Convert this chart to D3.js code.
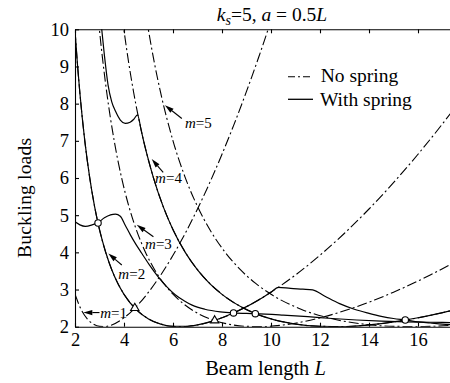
<!DOCTYPE html>
<html>
<head>
<meta charset="utf-8">
<script src="https://cdn.jsdelivr.net/npm/d3@7"></script>
<style>
  body { margin: 0; background: #fff; }
  svg text { font-family: "Liberation Serif", "Tinos", "Times New Roman", "DejaVu Serif", serif; fill: #000; }
</style>
</head>
<body>
<div id="chart"></div>
<script>
// no spring curves, one pair of arrays per mode m
const ns1L = [2.0, 2.25, 2.5, 2.75, 3.0, 3.25, 3.5, 4.0, 4.5, 5.0, 5.5, 6.0, 6.5, 7.0, 7.5, 8.0, 8.5, 9.0, 9.5, 10.0];
const ns1P = [2.873, 2.463, 2.212, 2.071, 2.009, 2.005, 2.047, 2.238, 2.539, 2.928, 3.391, 3.922, 4.514, 5.166, 5.875, 6.639, 7.457, 8.329, 9.254, 10.231];

const ns2L = [2.0, 2.1, 2.2, 2.4, 2.6, 2.8, 3.0, 3.25, 3.5, 3.75, 4.0, 4.5, 5.0, 5.5, 6.0, 6.5, 7.0, 7.5, 8.0, 8.5, 9.0, 9.5, 10.0, 11.0, 12.0, 13.0, 14.0, 15.0, 16.0, 17.0, 17.5];
const ns2P = [9.971, 9.064, 8.280, 7.000, 6.011, 5.234, 4.614, 4.005, 3.533, 3.164, 2.873, 2.463, 2.212, 2.071, 2.009, 2.005, 2.047, 2.127, 2.238, 2.377, 2.539, 2.724, 2.928, 3.391, 3.922, 4.514, 5.166, 5.875, 6.639, 7.457, 7.886];

const ns3L = [2.95, 3.0, 3.15, 3.3, 3.6, 3.9, 4.2, 4.5, 4.875, 5.25, 5.625, 6.0, 6.75, 7.5, 8.25, 9.0, 9.75, 10.5, 11.25, 12.0, 12.75, 13.5, 14.25, 15.0, 16.5, 17.5];
const ns3P = [10.305, 9.971, 9.064, 8.280, 7.000, 6.011, 5.234, 4.614, 4.005, 3.533, 3.164, 2.873, 2.463, 2.212, 2.071, 2.009, 2.005, 2.047, 2.127, 2.238, 2.377, 2.539, 2.724, 2.928, 3.391, 3.738];

const ns4L = [3.93, 4.0, 4.2, 4.4, 4.8, 5.2, 5.6, 6.0, 6.5, 7.0, 7.5, 8.0, 9.0, 10.0, 11.0, 12.0, 13.0, 14.0, 15.0, 16.0, 17.0, 17.5];
const ns4P = [10.32, 9.971, 9.064, 8.280, 7.000, 6.011, 5.234, 4.614, 4.005, 3.533, 3.164, 2.873, 2.463, 2.212, 2.071, 2.009, 2.005, 2.047, 2.127, 2.238, 2.377, 2.455];

const ns5L = [4.91, 5.0, 5.25, 5.5, 6.0, 6.5, 7.0, 7.5, 8.125, 8.75, 9.375, 10.0, 11.25, 12.5, 13.75, 15.0, 16.25, 17.5];
const ns5P = [10.33, 9.971, 9.064, 8.280, 7.000, 6.011, 5.234, 4.614, 4.005, 3.533, 3.164, 2.873, 2.463, 2.212, 2.071, 2.009, 2.005, 2.047];

// with spring curves
const ws1L = [2.0, 2.1, 2.2, 2.4, 2.6, 2.8, 3.0, 3.25, 3.5, 3.75, 4.0, 4.5, 5.0, 5.5, 6.0, 6.5, 7.0, 7.5, 8.0, 8.5, 9.0, 9.5, 10.0, 10.3, 10.8, 11.3, 11.7, 12.2, 12.8, 13.4, 14.0, 14.5, 15.0, 15.5, 16.0, 16.5, 17.0, 17.5];
const ws1P = [9.97, 9.06, 8.28, 7.00, 6.01, 5.23, 4.61, 4.01, 3.53, 3.16, 2.87, 2.46, 2.21, 2.07, 2.01, 2.01, 2.05, 2.13, 2.24, 2.38, 2.54, 2.72, 2.93, 3.06, 3.03, 3.01, 2.99, 2.82, 2.62, 2.47, 2.36, 2.28, 2.22, 2.18, 2.13, 2.10, 2.07, 2.05];

const ws2L = [2.0, 2.2, 2.42, 2.7, 2.94, 3.2, 3.45, 3.65, 3.85, 4.05, 4.26, 4.5, 4.73, 5.05, 5.41, 5.75, 6.09, 6.45, 6.78, 7.3, 7.93, 8.47, 9.36, 10.5, 11.5, 12.5, 13.5, 14.5, 15.5, 16.5, 17.5];
const ws2P = [4.82, 4.74, 4.70, 4.74, 4.80, 4.93, 5.01, 5.03, 4.97, 4.73, 4.47, 4.20, 3.97, 3.65, 3.33, 3.07, 2.86, 2.70, 2.58, 2.47, 2.40, 2.37, 2.35, 2.31, 2.27, 2.22, 2.18, 2.15, 2.13, 2.12, 2.11];

const ws3L = [3.06, 3.2, 3.35, 3.5, 3.65, 3.85, 4.05, 4.25, 4.4, 4.55, 4.7, 4.8, 5.0, 5.2, 5.6, 6.0, 6.5, 7.0, 7.5, 8.0, 9.0, 10.0, 11.0, 12.0, 13.0, 14.0, 15.0, 16.0, 17.0, 17.5];
const ws3P = [10.2, 9.3, 8.5, 8.05, 7.8, 7.56, 7.47, 7.5, 7.58, 7.7, 7.29, 7.0, 6.48, 6.01, 5.23, 4.61, 4.0, 3.53, 3.16, 2.87, 2.46, 2.21, 2.07, 2.01, 2.0, 2.05, 2.13, 2.24, 2.38, 2.46];

// markers
const circL = [2.94, 8.47, 9.36, 15.48];
const circP = [4.79, 2.37, 2.35, 2.18];
const triL = [4.44, 7.70];
const triP = [2.5, 2.167];

// tick labels
const xTicks = [2, 4, 6, 8, 10, 12, 14, 16];
const yTicks = [2, 3, 4, 5, 6, 7, 8, 9, 10];

// mode labels: arrow tip, arrow tail, label left/centre
const modeNames = ["1", "2", "3", "4", "5"];
const tipL = [2.34, 3.36, 4.52, 5.13, 5.67];
const tipP = [2.38, 3.97, 4.74, 6.51, 7.96];
const tailL = [3.0, 3.91, 5.20, 5.60, 6.36];
const tailP = [2.38, 3.66, 4.42, 6.15, 7.60];
const labL = [3.03, 3.77, 4.86, 5.27, 6.49];
const labP = [2.38, 3.42, 4.22, 6.0, 7.48];

const svgWidth = 450, svgHeight = 383;
const dashDot = "10,3,2,3";
const fontFam = '"Liberation Serif", "Tinos", "Times New Roman", "DejaVu Serif", serif';

const svg = d3.select("#chart").append("svg")
    .attr("width", svgWidth)
    .attr("height", svgHeight);

svg.append("rect").attr("width", svgWidth).attr("height", svgHeight).attr("fill", "#fff");

const x = d3.scaleLinear().domain([2, 17.5]).range([75, 454.75]);
const y = d3.scaleLinear().domain([2, 10]).range([326.7, 29.3]);

svg.append("clipPath").attr("id", "plotClip")
  .append("rect")
    .attr("x", x(2)).attr("y", y(10))
    .attr("width", x(17.5) - x(2)).attr("height", y(2) - y(10));

const line = d3.line()
    .x(d => x(d[0]))
    .y(d => y(d[1]))
    .curve(d3.curveMonotoneX);

const plot = svg.append("g").attr("clip-path", "url(#plotClip)");

// dash-dot curves first
[[ns1L, ns1P], [ns2L, ns2P], [ns3L, ns3P], [ns4L, ns4P], [ns5L, ns5P]].forEach(c => {
  plot.append("path")
    .datum(d3.zip(c[0], c[1]))
    .attr("d", line)
    .attr("fill", "none")
    .attr("stroke", "#000")
    .attr("stroke-width", 1.1)
    .attr("stroke-dasharray", dashDot);
});

// solid curves
[[ws1L, ws1P], [ws2L, ws2P], [ws3L, ws3P]].forEach(c => {
  plot.append("path")
    .datum(d3.zip(c[0], c[1]))
    .attr("d", line)
    .attr("fill", "none")
    .attr("stroke", "#000")
    .attr("stroke-width", 1.2);
});

// axes
const xAxis = svg.append("g")
    .attr("transform", `translate(0, ${y(2)})`)
    .call(d3.axisBottom(x).tickValues(xTicks).tickSizeInner(-4).tickSizeOuter(0).tickPadding(6.5));

const topAxis = svg.append("g")
    .attr("transform", `translate(0, ${y(10)})`)
    .call(d3.axisTop(x).tickValues(xTicks).tickSizeInner(-4).tickSizeOuter(0).tickFormat(""));

const yAxis = svg.append("g")
    .attr("transform", `translate(${x(2)}, 0)`)
    .call(d3.axisLeft(y).tickValues(yTicks).tickSizeInner(-4).tickSizeOuter(0).tickPadding(6));

svg.selectAll(".tick text").attr("font-size", 18.5);
svg.selectAll(".domain, .tick line").attr("stroke", "#000").attr("stroke-width", 1.1);

// markers
const markers = svg.append("g");
markers.selectAll("circle")
  .data(d3.zip(circL, circP))
  .enter()
  .append("circle")
    .attr("cx", d => x(d[0]))
    .attr("cy", d => y(d[1]))
    .attr("r", 3.2)
    .attr("fill", "#fff")
    .attr("stroke", "#000")
    .attr("stroke-width", 1.1);

markers.selectAll("path.tri")
  .data(d3.zip(triL, triP))
  .enter()
  .append("path")
    .attr("class", "tri")
    .attr("transform", d => `translate(${x(d[0])}, ${y(d[1])})`)
    .attr("d", d3.symbol().type(d3.symbolTriangle).size(30))
    .attr("fill", "#fff")
    .attr("stroke", "#000")
    .attr("stroke-width", 1.1);

// mode labels with arrows
const notes = svg.append("g");
modeNames.forEach((m, i) => {
  const tx = x(tipL[i]), ty = y(tipP[i]);
  const sx = x(tailL[i]), sy = y(tailP[i]);
  const ang = Math.atan2(ty - sy, tx - sx);
  const hl = 9, hw = 2.6;
  const bx = tx - hl * Math.cos(ang), by = ty - hl * Math.sin(ang);
  const px = -Math.sin(ang) * hw, py = Math.cos(ang) * hw;
  notes.append("line")
    .attr("x1", sx).attr("y1", sy).attr("x2", bx).attr("y2", by)
    .attr("stroke", "#000").attr("stroke-width", 1.1);
  notes.append("path")
    .attr("d", `M${tx},${ty}L${bx + px},${by + py}L${bx - px},${by - py}Z`)
    .attr("fill", "#000");
  const t = notes.append("text")
    .attr("x", x(labL[i]))
    .attr("y", y(labP[i]))
    .attr("dy", "0.35em")
    .attr("font-size", 15);
  t.append("tspan").attr("font-style", "italic").text("m");
  t.append("tspan").text("=" + m);
});

// title
const title = svg.append("text")
    .attr("x", 272).attr("y", 21)
    .attr("text-anchor", "middle")
    .attr("font-size", 19.5);
title.append("tspan").attr("font-style", "italic").text("k");
title.append("tspan").attr("font-size", 14).attr("font-style", "italic").attr("dy", 4).text("s");
title.append("tspan").attr("dy", -4).text("=5, ");
title.append("tspan").attr("font-style", "italic").text("a");
title.append("tspan").text(" = 0.5");
title.append("tspan").attr("font-style", "italic").text("L");

// axis labels
const xLab = svg.append("text")
    .attr("x", 265.5).attr("y", 375)
    .attr("text-anchor", "middle")
    .attr("font-size", 20.5);
xLab.append("tspan").text("Beam length ");
xLab.append("tspan").attr("font-style", "italic").text("L");

svg.append("text")
    .attr("transform", "translate(31, 198) rotate(-90)")
    .attr("text-anchor", "middle")
    .attr("font-size", 19.5)
    .attr("textLength", 120)
    .text("Buckling loads");

// legend
const legend = svg.append("g");
legend.append("line")
    .attr("x1", 288).attr("x2", 313).attr("y1", 76.7).attr("y2", 76.7)
    .attr("stroke", "#000").attr("stroke-width", 1.1)
    .attr("stroke-dasharray", "7,3,2,3");
legend.append("text").attr("x", 320.7).attr("y", 81.7).attr("font-size", 19.5).text("No spring");
legend.append("line")
    .attr("x1", 288).attr("x2", 313).attr("y1", 99.3).attr("y2", 99.3)
    .attr("stroke", "#000").attr("stroke-width", 1.3);
legend.append("text").attr("x", 320).attr("y", 106).attr("font-size", 19.5).text("With spring");

svg.selectAll("text").style("font-family", fontFam);
</script>
</body>
</html>
